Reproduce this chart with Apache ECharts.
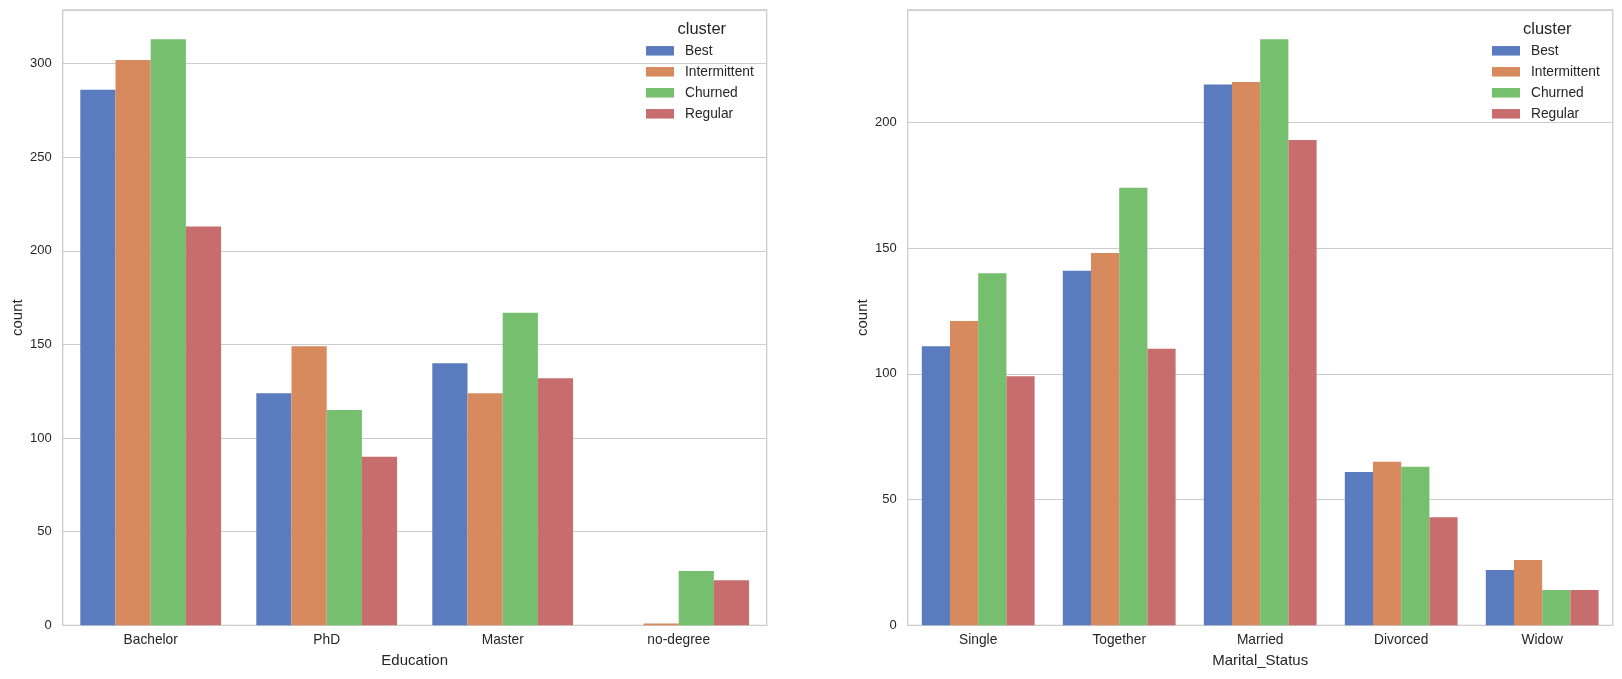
<!DOCTYPE html>
<html>
<head>
<meta charset="utf-8">
<script src="https://cdn.jsdelivr.net/npm/echarts@6/dist/echarts.min.js"></script>
<style>
html,body{margin:0;padding:0;background:#fff;}
#c{width:1622px;height:679px;}
</style>
</head>
<body>
<div id="c"></div>
<script>
const clusters = ['Best', 'Intermittent', 'Churned', 'Regular'];
const colors = ['#5a7cbe', '#d88a5f', '#75bf6e', '#c76d6d'];

const educationCats = ['Bachelor', 'PhD', 'Master', 'no-degree'];
const eduBest = [286, 124, 140, 0];
const eduIntermittent = [302, 149, 124, 1];
const eduChurned = [313, 115, 167, 29];
const eduRegular = [213, 90, 132, 24];

const maritalCats = ['Single', 'Together', 'Married', 'Divorced', 'Widow'];
const marBest = [111, 141, 215, 61, 22];
const marIntermittent = [121, 148, 216, 65, 26];
const marChurned = [140, 174, 233, 63, 14];
const marRegular = [99, 110, 193, 43, 14];

const eduTicks = [0, 50, 100, 150, 200, 250, 300];
const marTicks = [0, 50, 100, 150, 200];

const eduSeries = [eduBest, eduIntermittent, eduChurned, eduRegular];
const marSeries = [marBest, marIntermittent, marChurned, marRegular];

const FONT = 'Liberation Sans, Arial, sans-serif';
const txt = '#262626';
const gridCol = '#cccccc';

function yAxis(gridIndex, ticks) {
  const mx = Math.max(...(gridIndex === 0 ? eduSeries : marSeries).flat()) * 1.05;
  return {
    type: 'value', gridIndex: gridIndex, min: 0, max: mx, interval: 50,
    name: 'count', nameLocation: 'middle', nameGap: 37,
    nameTextStyle: {color: txt, fontSize: 15, fontFamily: FONT},
    axisLine: {show: false}, axisTick: {show: false},
    axisLabel: {color: txt, fontSize: 13, fontFamily: FONT, margin: 11, showMaxLabel: false,
      formatter: v => ticks.includes(v) ? String(v) : ''},
    splitLine: {lineStyle: {color: gridCol, width: 1.1}}
  };
}
function xAxis(gridIndex, cats, name) {
  return {
    type: 'category', gridIndex: gridIndex, data: cats,
    name: name, nameLocation: 'middle', nameGap: 28,
    nameTextStyle: {color: txt, fontSize: 15, fontFamily: FONT},
    axisLine: {show: false}, axisTick: {show: false},
    axisLabel: {color: txt, fontSize: 13.75, fontFamily: FONT, margin: 8},
    splitLine: {show: false}
  };
}

const series = [];
clusters.forEach((c, i) => {
  series.push({name: c, type: 'bar', xAxisIndex: 0, yAxisIndex: 0, data: eduSeries[i],
    itemStyle: {color: colors[i]}, barGap: '0%', barCategoryGap: '20%'});
});
clusters.forEach((c, i) => {
  series.push({name: c, type: 'bar', xAxisIndex: 1, yAxisIndex: 1, data: marSeries[i],
    itemStyle: {color: colors[i]}, barGap: '0%', barCategoryGap: '20%'});
});

function legend(left) {
  return {
    data: clusters, orient: 'vertical', left: left, top: 43.8, padding: 0,
    itemWidth: 28, itemHeight: 9.5, itemGap: 7, icon: 'rect',
    textStyle: {color: txt, fontSize: 13.75, lineHeight: 14, fontFamily: FONT, padding: [0, 0, 0, 6]},
    selectedMode: false
  };
}

const option = {
  animation: false,
  backgroundColor: '#ffffff',
  title: [
    {text: 'cluster', left: 677.5, top: 21, padding: 0, textStyle: {color: txt, fontSize: 16.5, fontWeight: 'normal', fontFamily: FONT}},
    {text: 'cluster', left: 1523, top: 21, padding: 0, textStyle: {color: txt, fontSize: 16.5, fontWeight: 'normal', fontFamily: FONT}}
  ],
  legend: [legend(646), legend(1492)],
  grid: [
    {left: 62.7, top: 10, width: 704, height: 615.3, show: true, borderColor: gridCol, borderWidth: 1.3, backgroundColor: 'transparent', containLabel: false},
    {left: 907.7, top: 10, width: 705, height: 615.3, show: true, borderColor: gridCol, borderWidth: 1.3, backgroundColor: 'transparent', containLabel: false}
  ],
  xAxis: [xAxis(0, educationCats, 'Education'), xAxis(1, maritalCats, 'Marital_Status')],
  yAxis: [yAxis(0, eduTicks), yAxis(1, marTicks)],
  series: series
};

const chart = echarts.init(document.getElementById('c'), null, {renderer: 'canvas'});
chart.setOption(option);
</script>
</body>
</html>
